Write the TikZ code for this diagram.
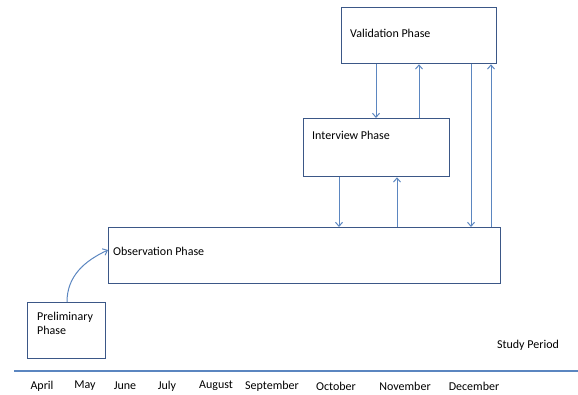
\documentclass[tikz,border=0pt]{standalone}
\usepackage{fontspec}
\usetikzlibrary{arrows.meta}
\setmainfont{Carlito}
\definecolor{boxblue}{HTML}{3B5787}
\definecolor{arrblue}{HTML}{5B86C0}
\tikzset{
  phase/.style={draw=boxblue,line width=1.3pt,anchor=north west,inner sep=0pt},
  flow/.style={-{Straight Barb[length=4pt,width=7pt]},draw=arrblue,line width=1pt},
  month/.style={font=\fontsize{12}{14}\selectfont,inner sep=0pt}
}
\begin{document}
\begin{tikzpicture}[x=1pt,y=-1pt,font=\fontsize{12}{14}\selectfont]
\useasboundingbox (0,0) rectangle (578,394);
% boxes
\node[phase,minimum width=155pt,minimum height=56pt,
  label={[anchor=west,inner sep=0pt,xshift=9pt,yshift=-26pt]north west:Validation Phase}]
  (valid) at (341,7) {};
\node[phase,minimum width=146pt,minimum height=58pt,
  label={[anchor=west,inner sep=0pt,xshift=9pt,yshift=-17pt]north west:Interview Phase}]
  (inter) at (303,118) {};
\node[phase,minimum width=392pt,minimum height=56pt,
  label={[anchor=west,inner sep=0pt,xshift=5pt,yshift=-24pt]north west:Observation Phase}]
  (obs) at (108,227) {};
\node[phase,minimum width=78pt,minimum height=56pt,
  label={[anchor=north west,inner sep=0pt,xshift=10pt,yshift=-10pt,align=left]north west:Preliminary\\Phase}]
  (prelim) at (27,302) {};
% arrows
\draw[flow] (valid.south -| 376,0) -- (inter.north -| 376,0);
\draw[flow] (inter.north -| 419,0) -- (valid.south -| 419,0);
\draw[flow] (inter.south -| 339,0) -- (obs.north -| 339,0);
\draw[flow] (obs.north -| 397,0) -- (inter.south -| 397,0);
\draw[flow] (valid.south -| 471,0) -- (obs.north -| 471,0);
\draw[flow] (obs.north -| 491,0) -- (valid.south -| 491,0);
\draw[flow] (prelim.north -| 67,0) to[out=90,in=205] (obs.west |- 0,250);
% time line
\coordinate (L) at (14,371);
\coordinate (R) at (578,371);
\draw[draw=arrblue,line width=1.2pt] (L) -- (R);
\node[month] (study) at (528,345) {Study Period};
\foreach \m/\x in {April/42,May/85,June/125,July/167,August/216,September/272,October/336,November/405,December/474}
  \node[month] (m\m) at (\x,386) {\m};
\end{tikzpicture}
\end{document}
